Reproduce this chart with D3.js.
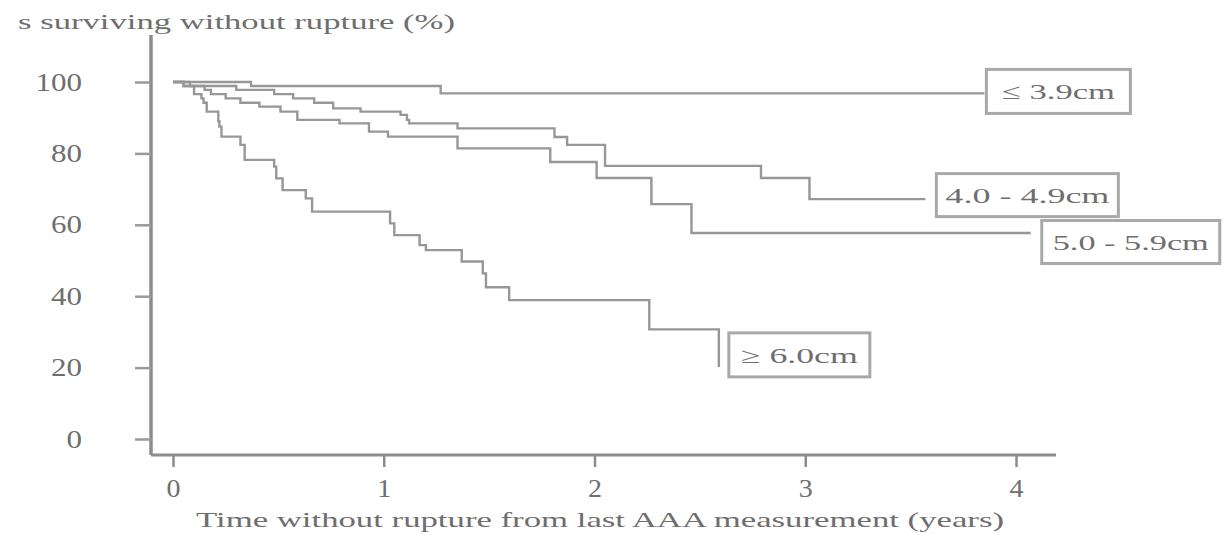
<!DOCTYPE html>
<html lang="en">
<head>
    <meta charset="UTF-8">
    <title>AAA surviving without rupture</title>
    <script src="https://d3js.org/d3.v7.min.js"></script>
    <style>
        body { margin: 0; background: #fff; }
        text { font-family: "Liberation Serif", "DejaVu Serif", serif; fill: #6e6e6e; }
    </style>
</head>
<body>
    <div id="chart"></div>
    <script>
        // step curves: time (years) -> % still intact
        const groups = ["≤ 3.9cm", "4.0 - 4.9cm", "5.0 - 5.9cm", "≥ 6.0cm"];

        const times39 = [0, 0.37, 1.27, 3.85];
        const surv39  = [100, 98.9, 96.8, 96.8];

        const times49 = [0, 0.05, 0.30, 0.48, 0.57, 0.67, 0.76, 0.89, 1.08, 1.11, 1.12, 1.35, 1.81, 1.87, 2.05, 2.79, 3.02, 3.57];
        const surv49  = [100, 98.9, 97.8, 96.6, 95.4, 94.2, 92.6, 91.7, 90.8, 89.4, 88.4, 87.0, 84.6, 82.4, 76.5, 73.1, 67.2, 67.2];

        const times59 = [0, 0.08, 0.15, 0.18, 0.25, 0.32, 0.41, 0.51, 0.59, 0.79, 0.93, 1.02, 1.35, 1.79, 2.01, 2.27, 2.46, 4.07];
        const surv59  = [100, 98.9, 97.8, 96.6, 95.4, 94.2, 93.1, 91.7, 89.4, 88.4, 86.1, 84.7, 81.4, 77.6, 73.1, 65.8, 57.7, 57.7];

        const times60 = [0, 0.05, 0.10, 0.135, 0.145, 0.16, 0.215, 0.22, 0.23, 0.32, 0.34, 0.48, 0.49, 0.52, 0.63, 0.66, 1.03, 1.05, 1.17, 1.20, 1.37, 1.47, 1.485, 1.595, 2.26, 2.59];
        const surv60  = [100, 98.9, 96.6, 95.4, 94.2, 91.7, 89.0, 87.5, 84.7, 82.4, 78.2, 76.3, 73.0, 69.7, 67.4, 63.7, 60.4, 57.1, 54.3, 52.9, 49.7, 46.4, 42.5, 38.9, 30.7, 20.2];

        const xTicks = [0, 1, 2, 3, 4];
        const yTicks = [0, 20, 40, 60, 80, 100];

        const yTitle = "s surviving without rupture (%)";
        const xTitle = "Time without rupture from last AAA measurement (years)";

        const series = [
            {name: groups[0], t: times39, s: surv39},
            {name: groups[1], t: times49, s: surv49},
            {name: groups[2], t: times59, s: surv59},
            {name: groups[3], t: times60, s: surv60}
        ];

        // label box layout (offset from the line end, box size, text width)
        const boxLayout = [
            {dx: 2,  dy: -2, w: 144, h: 44, tw: 113},
            {dx: 11, dy: -4, w: 182, h: 43, tw: 164},
            {dx: 11, dy: 9,  w: 178, h: 43, tw: 156},
            {dx: 10, dy: -12, w: 141, h: 44, tw: 117}
        ];

        const width = 1224, height = 535;
        const lineColor = "#979797";

        const svg = d3.select("#chart").append("svg")
            .attr("width", width)
            .attr("height", height);

        const x = d3.scaleLinear().domain([0, 4]).range([173, 1016]);
        const y = d3.scaleLinear().domain([0, 100]).range([439, 82]);

        const axisX = 151, axisY = 455;

        // axis frame
        svg.append("line")
            .attr("x1", axisX).attr("x2", axisX)
            .attr("y1", 35).attr("y2", axisY)
            .attr("stroke", "#8c8c8c").attr("stroke-width", 3.5);
        svg.append("line")
            .attr("x1", axisX).attr("x2", 1056)
            .attr("y1", axisY).attr("y2", axisY)
            .attr("stroke", "#8c8c8c").attr("stroke-width", 3);

        const yAxis = svg.append("g")
            .attr("transform", `translate(${axisX},0)`)
            .call(d3.axisLeft(y).tickValues(yTicks).tickSize(16).tickFormat(d3.format("d")));
        yAxis.select(".domain").remove();
        yAxis.selectAll("line").attr("stroke", "#9a9a9a").attr("stroke-width", 2.5);
        // stretched digits, right edge kept at x = 82
        yAxis.selectAll("text")
            .attr("fill", null)
            .style("font-size", "25px")
            .attr("text-anchor", "start")
            .attr("x", d => -69 - String(d).length * 15.5)
            .attr("textLength", d => String(d).length * 15.5)
            .attr("lengthAdjust", "spacingAndGlyphs");

        const xAxis = svg.append("g")
            .attr("transform", `translate(0,${axisY})`)
            .call(d3.axisBottom(x).tickValues(xTicks).tickSize(12).tickPadding(12).tickFormat(d3.format("d")));
        xAxis.select(".domain").remove();
        xAxis.selectAll("line").attr("stroke", "#8c8c8c").attr("stroke-width", 2.5);
        xAxis.selectAll("text")
            .attr("fill", null)
            .style("font-size", "26px")
            .attr("text-anchor", "start")
            .attr("x", -7)
            .attr("textLength", 14)
            .attr("lengthAdjust", "spacingAndGlyphs");

        // titles
        svg.append("text")
            .attr("x", 18).attr("y", 29)
            .style("font-size", "21px")
            .attr("textLength", 437)
            .attr("lengthAdjust", "spacingAndGlyphs")
            .text(yTitle);

        svg.append("text")
            .attr("x", 196).attr("y", 527)
            .style("font-size", "22px")
            .attr("textLength", 808)
            .attr("lengthAdjust", "spacingAndGlyphs")
            .text(xTitle);

        // survival curves
        const line = d3.line()
            .x(d => x(d[0]))
            .y(d => y(d[1]))
            .curve(d3.curveStepAfter);

        series.forEach((sr, i) => {
            const pts = sr.t.map((t, j) => [t, sr.s[j]]);
            svg.append("path")
                .datum(pts)
                .attr("fill", "none")
                .attr("stroke", lineColor)
                .attr("stroke-width", 2.4)
                .attr("d", line);

            const last = pts[pts.length - 1];
            const b = boxLayout[i];
            const bx = x(last[0]) + b.dx;
            const cy = y(last[1]) + b.dy;

            svg.append("rect")
                .attr("x", bx).attr("y", cy - b.h / 2)
                .attr("width", b.w).attr("height", b.h)
                .attr("fill", "#fff")
                .attr("stroke", "#a9a9a9")
                .attr("stroke-width", 3);

            svg.append("text")
                .attr("x", bx + (b.w - b.tw) / 2)
                .attr("y", cy + 8)
                .style("font-size", "22px")
                .attr("textLength", b.tw)
                .attr("lengthAdjust", "spacingAndGlyphs")
                .text(sr.name);
        });
    </script>
</body>
</html>
